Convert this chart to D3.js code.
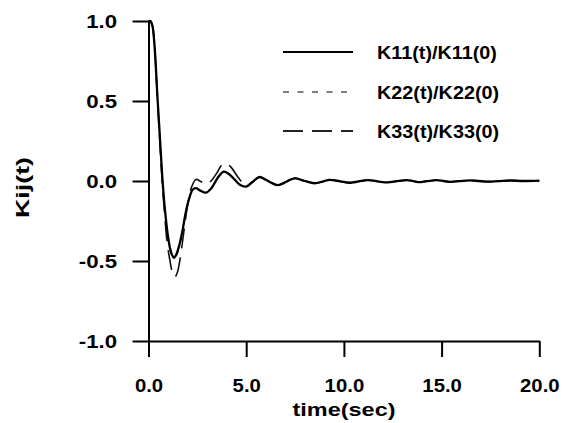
<!DOCTYPE html>
<html><head><meta charset="utf-8">
<script src="https://cdn.jsdelivr.net/npm/d3@7/dist/d3.min.js"></script>
<style>body{margin:0;background:#fff}</style>
</head><body><svg id="c" width="567" height="423"></svg>
<script>
// ---- data ----
const timeK11 = [0,0.1,0.2,0.3,0.47,0.6,0.72,0.85,0.98,1.1,1.2,1.3,1.42,1.58,1.74,1.9,2.08,2.26,2.43,2.65,2.94,3.15,3.35,3.6,3.85,4.1,4.4,4.7,5.0,5.3,5.68,6.0,6.3,6.62,7.05,7.47,8.0,8.5,8.9,9.27,9.8,10.3,10.75,11.23,11.65,12.1,12.65,13.2,13.5,13.8,14.25,14.74,15.1,15.4,15.9,16.45,16.9,17.3,17.9,18.5,19.2,20.0];
const valK11  = [1.0,1.0,0.97,0.86,0.5,0.24,0.0,-0.19,-0.33,-0.42,-0.46,-0.48,-0.46,-0.4,-0.31,-0.2,-0.11,-0.055,-0.045,-0.06,-0.073,-0.055,-0.02,0.03,0.058,0.045,0.01,-0.025,-0.035,-0.008,0.025,0.008,-0.012,-0.026,-0.005,0.017,0.0,-0.014,-0.004,0.007,-0.002,-0.011,-0.003,0.006,-0.001,-0.009,-0.002,0.005,0.001,-0.007,-0.001,0.005,0.0,-0.005,-0.001,0.004,0.0,-0.004,-0.001,0.003,0.0,0.002];

const timeK22 = [0,0.1,0.2,0.3,0.47,0.6,0.72,0.85,0.98,1.1,1.2,1.3,1.42,1.58,1.74,1.9,2.08,2.26,2.43,2.65,2.94,3.15,3.35,3.6,3.85,4.1,4.4,4.7,5.0,5.3,5.68,6.0,6.3,6.62,7.05,7.47,8.0,8.5,8.9,9.27,9.8,10.3,10.75,11.23,11.65,12.1,12.65,13.2,13.5,13.8,14.25,14.74,15.1,15.4,15.9,16.45,16.9,17.3,17.9,18.5,19.2,20.0];
const valK22  = [1.0,1.0,0.97,0.86,0.5,0.23,-0.01,-0.2,-0.34,-0.43,-0.47,-0.49,-0.47,-0.41,-0.31,-0.2,-0.11,-0.055,-0.043,-0.058,-0.07,-0.052,-0.017,0.033,0.06,0.046,0.01,-0.025,-0.035,-0.008,0.025,0.008,-0.012,-0.026,-0.005,0.017,0.0,-0.014,-0.004,0.007,-0.002,-0.011,-0.003,0.006,-0.001,-0.009,-0.002,0.005,0.001,-0.007,-0.001,0.005,0.0,-0.005,-0.001,0.004,0.0,-0.004,-0.001,0.003,0.0,0.002];

const timeK33 = [0,0.1,0.2,0.3,0.45,0.6,0.7,0.82,0.95,1.1,1.22,1.35,1.48,1.6,1.72,1.85,2.0,2.2,2.43,2.7,2.97,3.2,3.5,3.75,3.97,4.2,4.56,4.8,5.0,5.3,5.68,6.0,6.3,6.62,7.05,7.47,8.0,8.5,8.9,9.27,9.8,10.3,10.75,11.23,11.65,12.1,12.65,13.2,13.5,13.8,14.25,14.74,15.1,15.4,15.9,16.45,16.9,17.3,17.9,18.5,19.2,20.0];
const valK33  = [1.0,1.0,0.97,0.86,0.53,0.2,0.0,-0.2,-0.38,-0.5,-0.57,-0.6,-0.57,-0.5,-0.4,-0.28,-0.15,-0.04,0.01,-0.005,-0.02,0.0,0.05,0.1,0.11,0.09,0.027,-0.01,-0.03,-0.008,0.025,0.008,-0.012,-0.026,-0.005,0.017,0.0,-0.014,-0.004,0.007,-0.002,-0.011,-0.003,0.006,-0.001,-0.009,-0.002,0.005,0.001,-0.007,-0.001,0.005,0.0,-0.005,-0.001,0.004,0.0,-0.004,-0.001,0.003,0.0,0.002];

const xTicks = [0,5,10,15,20];
const yTicks = [-1,-0.5,0,0.5,1];
const legendLabels = ["K11(t)/K11(0)","K22(t)/K22(0)","K33(t)/K33(0)"];
const xTitle = "time(sec)";
const yTitle = "Kij(t)";

// ---- drawing ----
const FONT = "'Liberation Sans', Arial, Helvetica, sans-serif";
const svg = d3.select("#c");
const x = d3.scaleLinear().domain([0,20]).range([148.5,539.3]);
const y = d3.scaleLinear().domain([-1,1]).range([341,21]);

function stretch(sel, f){
  sel.each(function(){
    const w = this.getComputedTextLength();
    d3.select(this).attr("textLength", w*f).attr("lengthAdjust","spacingAndGlyphs");
  });
}

// axes
const gx = svg.append("g").attr("transform",`translate(0,${y(-1)})`)
  .call(d3.axisBottom(x).tickValues(xTicks).tickFormat(d=>d.toFixed(1)).tickSize(16).tickSizeOuter(0));
const gy = svg.append("g").attr("transform",`translate(${x(0)},0)`)
  .call(d3.axisLeft(y).tickValues(yTicks).tickFormat(d=>d.toFixed(1)).tickSize(16).tickSizeOuter(0));
[gx,gy].forEach(g=>{
  g.select(".domain").attr("stroke","#000").attr("stroke-width",2);
  g.selectAll(".tick line").attr("stroke","#000").attr("stroke-width",2);
  g.attr("font-family",null).attr("font-size",null);
});
gx.selectAll(".tick text").attr("y",37.5).attr("dy","0.71em")
  .style("font-family",FONT).style("font-weight","bold").style("font-size","19px").attr("fill","#000")
  .call(stretch,1.07);
gy.selectAll(".tick text").attr("x",-31.5).attr("dy","0.35em")
  .style("font-family",FONT).style("font-weight","bold").style("font-size","18.5px").attr("fill","#000")
  .call(stretch,1.2);

// titles
const tx = svg.append("text").attr("x",344).attr("y",416).attr("text-anchor","middle")
  .style("font-family",FONT).style("font-weight","bold").style("font-size","19px").text(xTitle);
tx.attr("textLength",103).attr("lengthAdjust","spacingAndGlyphs");
const ty = svg.append("text").attr("transform","translate(29,187.5) rotate(-90)").attr("text-anchor","middle")
  .style("font-family",FONT).style("font-weight","bold").style("font-size","19px").text(yTitle);
ty.attr("textLength",61).attr("lengthAdjust","spacingAndGlyphs");

// lines
const series = [
  {t:timeK33, v:valK33, dash:"20,9", w:1.6, c:"#111"},
  {t:timeK22, v:valK22, dash:"6,8.5", w:1.2, c:"#333"},
  {t:timeK11, v:valK11, dash:null, w:2.3, c:"#000"}
];
const line = d3.line().x(d=>x(d[0])).y(d=>y(d[1])).curve(d3.curveCatmullRom.alpha(0.5));
series.forEach(s=>{
  svg.append("path").datum(s.t.map((t,i)=>[t,s.v[i]]))
    .attr("d",line).attr("fill","none").attr("stroke",s.c).attr("stroke-width",s.w)
    .attr("stroke-dasharray",s.dash).attr("stroke-linejoin","round");
});

// legend
const legY = [52,92,131];
const legStyle = [
  {dash:null,w:2.2,c:"#000"},
  {dash:"6,8.5",w:1.5,c:"#555"},
  {dash:"20,9",w:1.8,c:"#222"}
];
legendLabels.forEach((lab,i)=>{
  svg.append("line").attr("x1",283).attr("x2",353).attr("y1",legY[i]).attr("y2",legY[i])
    .attr("stroke",legStyle[i].c).attr("stroke-width",legStyle[i].w).attr("stroke-dasharray",legStyle[i].dash);
  svg.append("text").attr("x",377).attr("y",legY[i]+6.5)
    .style("font-family",FONT).style("font-weight","bold").style("font-size","18.5px").text(lab)
    .call(stretch,1.07);
});
</script>
</body></html>
